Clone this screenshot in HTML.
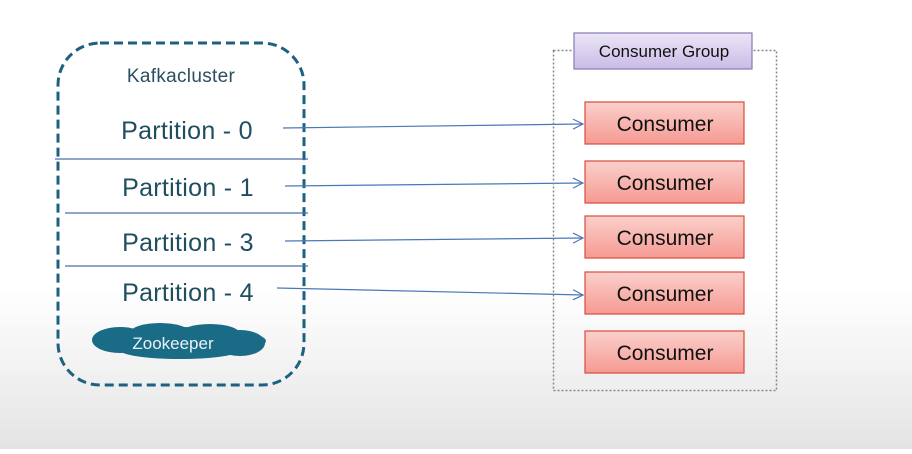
<!DOCTYPE html>
<html><head><style>
html,body{margin:0;padding:0;}
body{width:912px;height:449px;overflow:hidden;background:linear-gradient(#fff 0,#fff 290px,#e4e4e4 449px);font-family:"Liberation Sans",sans-serif;}
</style></head><body>
<svg width="912" height="449" viewBox="0 0 912 449" xmlns="http://www.w3.org/2000/svg">
<defs>
<linearGradient id="red" x1="0" y1="0" x2="0" y2="1"><stop offset="0" stop-color="#fbd0cc"/><stop offset="1" stop-color="#f59a92"/></linearGradient>
<linearGradient id="pur" x1="0" y1="0" x2="0" y2="1"><stop offset="0" stop-color="#ece6f7"/><stop offset="1" stop-color="#c9bce6"/></linearGradient>
<marker id="ar" markerWidth="12" markerHeight="12" refX="11" refY="6" orient="auto" markerUnits="userSpaceOnUse"><path d="M1,1 L11,6 L1,11" fill="none" stroke="#4a78b8" stroke-width="1.2"/></marker>
</defs>
<rect x="58" y="43" width="246" height="342" rx="42" fill="none" stroke="#1e6080" stroke-width="3" stroke-dasharray="9,5"/>
<text x="181" y="82" font-size="19" fill="#2a4f60" text-anchor="middle" letter-spacing="0.3">Kafkacluster</text>
<g stroke="#4a6fa8" stroke-width="1.3">
<line x1="55" y1="159" x2="308" y2="159"/>
<line x1="65" y1="213" x2="308" y2="213"/>
<line x1="65" y1="266" x2="308" y2="266"/>
</g>
<g font-size="25" fill="#1f4e5f" text-anchor="middle" letter-spacing="0.3">
<text x="187" y="139">Partition - 0</text>
<text x="188" y="196">Partition - 1</text>
<text x="188" y="251">Partition - 3</text>
<text x="188" y="301">Partition - 4</text>
</g>
<g fill="#1a6b86">
<ellipse cx="180" cy="341" rx="86" ry="14"/>
<ellipse cx="120" cy="340" rx="28" ry="13"/>
<ellipse cx="160" cy="333" rx="30" ry="10"/>
<ellipse cx="210" cy="334" rx="30" ry="10"/>
<ellipse cx="240" cy="343" rx="25" ry="13"/>
<ellipse cx="180" cy="350" rx="60" ry="9"/>
</g>
<text x="173" y="349" font-size="17" fill="#e8f2f6" text-anchor="middle">Zookeeper</text>
<g stroke="#4a78b8" stroke-width="1.2" marker-end="url(#ar)">
<line x1="283" y1="128" x2="583" y2="124"/>
<line x1="285" y1="186" x2="583" y2="183"/>
<line x1="285" y1="241" x2="583" y2="238"/>
<line x1="277" y1="288" x2="583" y2="295"/>
</g>
<rect x="553.5" y="50.5" width="223" height="340" fill="none" stroke="#888" stroke-width="1.5" stroke-dasharray="2,2"/>
<rect x="574" y="33" width="178" height="36" fill="url(#pur)" stroke="#8a78b8" stroke-width="1.2"/>
<text x="664" y="57" font-size="17" fill="#111" text-anchor="middle">Consumer Group</text>
<g stroke="#d94b3c" stroke-width="1.2" fill="url(#red)">
<rect x="585" y="102" width="159" height="42"/>
<rect x="585" y="161" width="159" height="42"/>
<rect x="585" y="216" width="159" height="42"/>
<rect x="585" y="272" width="159" height="42"/>
<rect x="585" y="331" width="159" height="42"/>
</g>
<g font-size="21" fill="#111" text-anchor="middle">
<text x="665" y="131">Consumer</text>
<text x="665" y="190">Consumer</text>
<text x="665" y="245">Consumer</text>
<text x="665" y="301">Consumer</text>
<text x="665" y="360">Consumer</text>
</g>
</svg>
</body></html>
